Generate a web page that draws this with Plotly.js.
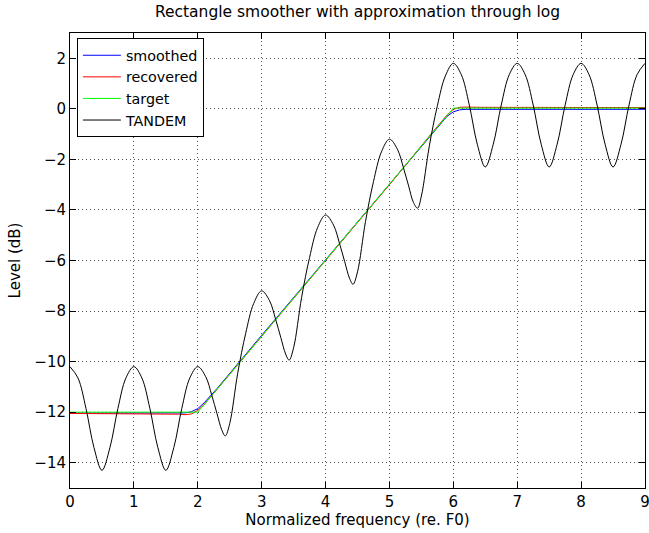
<!DOCTYPE html>
<html>
<head>
<meta charset="utf-8">
<script src="https://cdn.plot.ly/plotly-3.0.1.min.js"></script>
<style>html,body{margin:0;padding:0;background:#fff;}#chart{width:649px;height:533px;}</style>
</head>
<body>
<div id="chart"></div>
<script>
// ---- data ----
const xTarget = [0, 2, 6, 9];
const yTarget = [-12, -12, 0.03, 0.03];

const xSmoothed = [0, 1.7, 1.8, 1.9, 2.0, 2.1, 2.2, 2.3, 3, 4, 5, 5.7, 5.8, 5.9, 6.0, 6.1, 6.2, 9];
const ySmoothed = [-12.04, -12.04, -12.03, -11.98, -11.86, -11.63, -11.36, -11.07, -8.96, -5.96, -2.96, -0.86, -0.57, -0.3, -0.12, -0.04, -0.02, -0.02];

const xRecovered = [0, 1.5, 1.7, 1.8, 1.85, 1.9, 2.0, 2.1, 2.2, 2.3, 3, 4, 5, 5.7, 5.8, 5.9, 6.0, 6.1, 6.2, 6.4, 9];
const yRecovered = [-12.05, -12.06, -12.08, -12.1, -12.1, -12.07, -11.93, -11.7, -11.4, -11.1, -9.0, -6.0, -3.0, -0.85, -0.55, -0.25, -0.02, 0.06, 0.07, 0.06, 0.05];

const xTandem = [
  0, 0.125, 0.25, 0.375, 0.5, 0.625, 0.75, 0.875,
  1, 1.125, 1.25, 1.375, 1.5, 1.625, 1.75, 1.875,
  2, 2.125, 2.22, 2.3, 2.375, 2.43, 2.5, 2.625, 2.75, 2.875,
  3, 3.125, 3.22, 3.3, 3.375, 3.43, 3.5, 3.625, 3.75, 3.875,
  4, 4.125, 4.22, 4.3, 4.375, 4.43, 4.5, 4.625, 4.75, 4.875,
  5, 5.125, 5.22, 5.3, 5.375, 5.44, 5.5, 5.625, 5.75, 5.875,
  6, 6.125, 6.25, 6.375, 6.5, 6.625, 6.75, 6.875,
  7, 7.125, 7.25, 7.375, 7.5, 7.625, 7.75, 7.875,
  8, 8.125, 8.25, 8.375, 8.5, 8.625, 8.75, 8.875,
  9
];
const yTandem = [
  -10.2, -10.65, -11.85, -13.4, -14.3, -13.4, -11.85, -10.65,
  -10.2, -10.65, -11.85, -13.4, -14.3, -13.4, -11.85, -10.65,
  -10.2, -10.6, -11.34, -12.05, -12.7, -12.94, -12.45, -10.46, -8.88, -7.7,
  -7.2, -7.6, -8.34, -9.05, -9.7, -9.94, -9.45, -7.46, -5.88, -4.7,
  -4.2, -4.6, -5.34, -6.05, -6.7, -6.94, -6.45, -4.46, -2.88, -1.7,
  -1.2, -1.6, -2.34, -3.05, -3.7, -3.93, -3.45, -1.46, 0.12, 1.3,
  1.8, 1.35, 0.15, -1.4, -2.3, -1.4, 0.15, 1.35,
  1.8, 1.35, 0.15, -1.4, -2.3, -1.4, 0.15, 1.35,
  1.8, 1.35, 0.15, -1.4, -2.3, -1.4, 0.15, 1.35,
  1.8
];

const xTicks = [0, 1, 2, 3, 4, 5, 6, 7, 8, 9];
const yTicks = [-14, -12, -10, -8, -6, -4, -2, 0, 2];

const titleText = 'Rectangle smoother with approximation through log';
const xLabel = 'Normalized frequency (re. F0)';
const yLabel = 'Level (dB)';
const names = ['smoothed', 'recovered', 'target', 'TANDEM'];

// ---- chart ----
const FONT = 'DejaVu Sans, Liberation Sans, Arial, sans-serif';
const traces = [
  {x: xSmoothed, y: ySmoothed, name: names[0], mode: 'lines', line: {color: '#0000ff', width: 1}},
  {x: xRecovered, y: yRecovered, name: names[1], mode: 'lines', line: {color: '#ff0000', width: 1}},
  {x: xTarget, y: yTarget, name: names[2], mode: 'lines', line: {color: '#00ff00', width: 1}},
  {x: xTandem, y: yTandem, name: names[3], mode: 'lines', line: {color: '#000000', width: 1, shape: 'spline', smoothing: 1}}
];

const axisCommon = {
  showline: true, linecolor: '#000', linewidth: 1, mirror: 'ticks',
  ticks: 'inside', ticklen: 6, tickcolor: '#000', tickwidth: 1,
  showgrid: true, gridcolor: '#555', gridwidth: 1, griddash: '1px,3px',
  zeroline: false, tickfont: {family: FONT, size: 15, color: '#000'},
  ticklabeloverflow: 'allow'
};

const layout = {
  width: 649, height: 533,
  margin: {l: 70, r: 4, t: 33, b: 45},
  paper_bgcolor: '#fff', plot_bgcolor: '#fff',
  font: {family: FONT, size: 15, color: '#000'},
  title: {text: titleText, font: {family: FONT, size: 15.5, color: '#000'}, xref: 'paper', x: 0.5, xanchor: 'center', yref: 'container', y: 1 - 12/533, yanchor: 'middle'},
  xaxis: Object.assign({}, axisCommon, {
    range: [0, 9], tickvals: xTicks, ticktext: xTicks.map(String),
    title: {text: xLabel, font: {family: FONT, size: 15, color: '#000'}, standoff: 4}
  }),
  yaxis: Object.assign({}, axisCommon, {
    range: [-15, 3], tickvals: yTicks,
    title: {text: yLabel, font: {family: FONT, size: 15, color: '#000'}, standoff: 10}
  }),
  showlegend: true,
  legend: {
    x: 0.012, y: 0.988, xanchor: 'left', yanchor: 'top',
    bgcolor: '#fff', bordercolor: '#000', borderwidth: 1,
    font: {family: FONT, size: 14.3, color: '#000'}, itemwidth: 38
  }
};

Plotly.newPlot('chart', traces, layout, {displayModeBar: false, staticPlot: true});
</script>
</body>
</html>
